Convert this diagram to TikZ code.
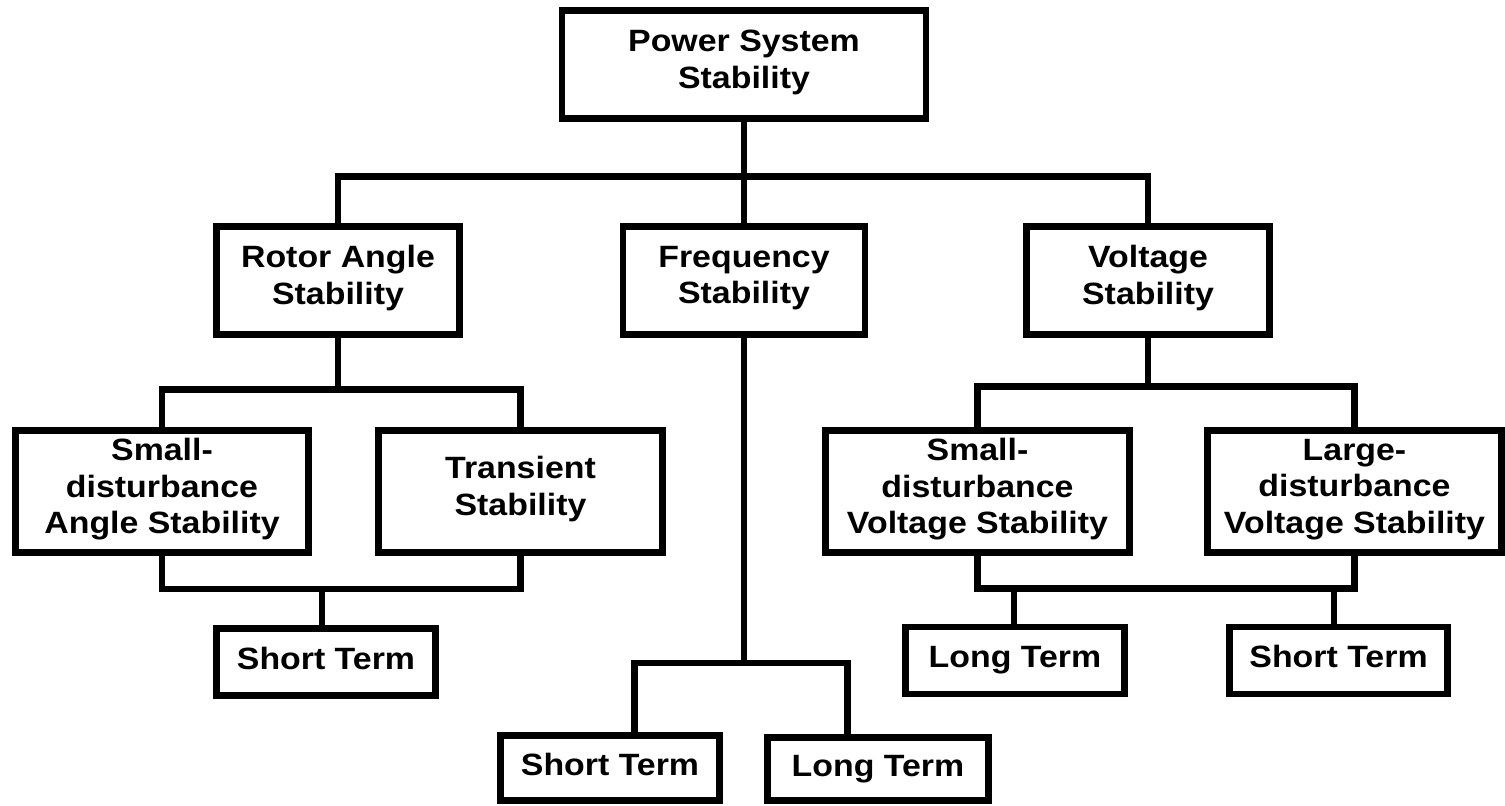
\documentclass[tikz,border=0pt]{standalone}
\usepackage{fontspec}
\newfontfamily\diagfont{Liberation Sans}[FakeStretch=1.1]
\usetikzlibrary{calc}

\tikzset{
	box/.style={draw, line width=3.4pt, inner sep=0pt, align=center,
		font=\diagfont\bfseries\fontsize{15.4}{18.3}\selectfont,
		execute at begin node=\strut, execute at end node=\strut},
	link/.style={line width=3.4pt}
}

\begin{document}
\begin{tikzpicture}[x=0.5pt, y=-0.5pt]
		\useasboundingbox (0,0) rectangle (1505,805);
		% top
		\node[box, minimum width=182pt, minimum height=54pt] (pss) at (744,64.5) {Power System\\Stability};
		% second row
		\node[box, minimum width=121.5pt, minimum height=54pt] (ras) at (338,280.5) {Rotor Angle\\Stability};
		\node[box, minimum width=121pt, minimum height=54pt] (fs) at (744,280.5) {Frequency\\Stability};
		\node[box, minimum width=121.5pt, minimum height=54pt] (vs) at (1148,280.5) {Voltage\\Stability};
		% third row
		\node[box, minimum width=146.5pt, minimum height=61pt] (sda) at (162,491.5) {Small-\\disturbance\\Angle Stability};
		\node[box, minimum width=142pt, minimum height=61pt] (ts) at (520.5,491.5) {Transient\\Stability};
		\node[box, minimum width=152pt, minimum height=61pt] (sdv) at (977.5,491.5) {Small-\\disturbance\\Voltage Stability};
		\node[box, minimum width=147pt, minimum height=61pt] (ldv) at (1354.5,491.5) {Large-\\disturbance\\Voltage Stability};
		% terms
		\node[box, minimum width=109.5pt, minimum height=33.5pt] (stl) at (326,662) {Short Term};
		\node[box, minimum width=109.5pt, minimum height=33.5pt] (ltr) at (1015,660.5) {Long Term};
		\node[box, minimum width=109pt, minimum height=33.5pt] (str) at (1338.5,660.5) {Short Term};
		\node[box, minimum width=109.5pt, minimum height=32.5pt] (stb) at (610,768) {Short Term};
		\node[box, minimum width=110.5pt, minimum height=31.5pt] (ltb) at (878,769) {Long Term};
		% junctions
		\coordinate (top) at (744,176.5);
		\coordinate (ra) at (338,389.5);
		\coordinate (sa) at (322,589);
		\coordinate (va) at (1148,386.5);
		\coordinate (vl) at (1014,588.5);
		\coordinate (vr) at (1334,588.5);
		\coordinate (fl) at (634.5,663);
		\coordinate (fr) at (847.5,663);
		% links
		\draw[link] (pss) -- (top);
		\draw[link] (ras.north) |- (top) -| (vs.north);
		\draw[link] (top) -- (fs);
		\draw[link] (ras) -- (ra);
		\draw[link] (sda.north) |- (ra) -| (ts.north);
		\draw[link] (sda.south) |- (sa) -| (ts.south);
		\draw[link] (sa) -- (sa |- stl.north);
		\draw[link] (vs) -- (va);
		\draw[link] (sdv.north) |- (va) -| (ldv.north);
		\draw[link] (sdv.south) |- (vr) -| (ldv.south);
		\draw[link] (vl) -- (vl |- ltr.north);
		\draw[link] (vr) -- (vr |- str.north);
		\draw[link] (fs) -- (fs |- fl);
		\draw[link] (fl |- stb.north) -- (fl) -- (fr) -- (fr |- ltb.north);
	\end{tikzpicture}
\end{document}
